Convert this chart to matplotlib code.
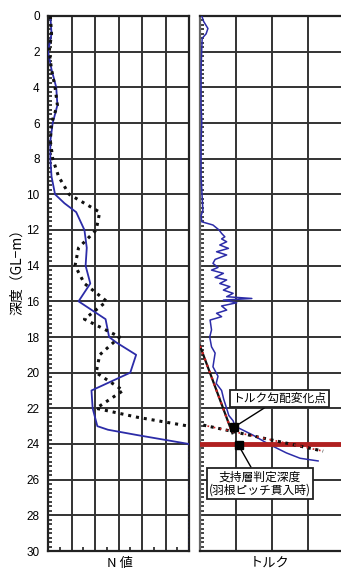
import numpy as np
import matplotlib.pyplot as plt
from matplotlib.ticker import MultipleLocator

plt.rcParams['font.family'] = ['Noto Sans CJK JP', 'DejaVu Sans']

# ---- N value (left panel) ----
n_blue_depth = [0, 1, 2, 3, 4, 5, 6, 7, 8, 9, 10, 10.5, 11, 12, 13, 14, 15, 15.7, 16,
                17, 18, 18.3, 19, 20, 21, 22, 23, 23.2, 23.5, 24]
n_blue_val = [1, 1.5, 0, 1.5, 3.5, 4, 2, 1, 1, 1.5, 3, 7, 12, 15.5, 16.5, 16, 18, 14.5, 13,
              24.5, 26, 29, 37.5, 35, 18.5, 19, 21, 25.5, 38, 60]
n_cap_depth = [24, 30]
n_cap_val = [60, 60]

n_dot_depth = [0, 1, 2, 3, 4, 5, 6, 7, 8, 9, 10, 11, 12, 13, 14, 15, 16, 17, 18, 19, 20,
               21, 22, 22.5, 23]
n_dot_val = [1, 1.5, 0.5, 1.5, 3, 4, 1.5, 1, 2, 4.5, 9, 22, 20.5, 13, 11.5, 15.5, 25, 15.5,
             30.5, 22, 20.5, 32, 20.5, 38, 60]

# ---- torque (right panel) ----
tq_depth = [0, 0.3, 0.7, 1.0, 1.25, 1.8, 3, 5, 6, 7, 9, 10.9, 11.2, 11.54, 11.72, 12.0,
            12.19, 12.38, 12.5, 12.66, 12.84, 13.03, 13.22, 13.4, 13.65, 13.87, 14.1, 14.25,
            14.43, 14.66, 14.8, 15.0, 15.18, 15.37, 15.55, 15.74, 15.84, 15.93, 16.08, 16.26,
            16.49, 16.67, 16.86, 17.05, 17.6, 18.0, 18.55, 18.9, 19.67, 20.2, 20.6, 21.0,
            21.5, 22.0, 22.4, 22.7, 23.0, 23.5, 24.0, 24.5, 24.8, 24.95]
tq_val = [0.05, 0.1, 0.22, 0.17, 0.06, 0.05, 0.03, 0.03, 0.05, 0.03, 0.03, 0.08, 0.03, 0.05,
          0.36, 0.53, 0.6, 0.69, 0.6, 0.74, 0.55, 0.79, 0.46, 0.74, 0.42, 0.36, 0.5, 0.32,
          0.65, 0.42, 0.74, 0.55, 0.83, 0.65, 0.92, 0.74, 1.44, 0.65, 1.02, 0.6, 0.74, 0.46,
          0.6, 0.28, 0.32, 0.27, 0.32, 0.42, 0.36, 0.5, 0.45, 0.6, 0.66, 0.74, 0.8, 0.92,
          0.97, 1.47, 1.9, 2.4, 2.78, 3.28]

fit1_depth = [18.5, 23.4]
fit1_val = [0.0, 0.9]
fit2_depth = [22.94, 24.4]
fit2_val = [0.09, 3.42]

change_pt = (0.95, 23.05)
bearing_pt = (1.07, 24.07)
bearing_depth = 24.0

y_ticks = list(range(0, 31, 2))

W, H = 341, 571
fig = plt.figure(figsize=(W / 100, H / 100), dpi=100)

grid_kw = dict(color='#333333', lw=1.4)
ax1 = fig.add_axes([48 / W, 20 / H, 141 / W, 535 / H])
ax2 = fig.add_axes([200 / W, 20 / H, 141 / W, 535 / H])

for ax in (ax1, ax2):
    ax.set_ylim(30, 0)
    ax.set_yticks(y_ticks)
    ax.grid(True, which='major', **grid_kw)
    ax.tick_params(axis='y', which='major', length=0, labelsize=8.5, pad=6)
    for s in ax.spines.values():
        s.set_linewidth(1.6)
        s.set_color('#222222')

ax1.set_xlim(0, 60)
ax1.set_xticks(range(0, 61, 10))
ax1.set_xticklabels([])
ax1.tick_params(axis='x', which='major', length=0)
ax1.minorticks_on()
ax1.xaxis.set_minor_locator(MultipleLocator(5))
ax1.yaxis.set_minor_locator(MultipleLocator(0.25))
ax1.tick_params(which='minor', direction='in', length=3, width=1.2, color='#222222')
for lab in ax1.get_yticklabels():
    lab.set_family(['Liberation Sans', 'DejaVu Sans'])

ax1.plot(n_blue_val, n_blue_depth, color='#2c2ca8', lw=1.3, zorder=3)
ax1.plot(n_cap_val, n_cap_depth, color='#2c2ca8', lw=1.0, ls=':', zorder=3)
ax1.plot(n_dot_val, n_dot_depth, color='#111111', lw=2.2, ls=(0, (1, 1.6)), zorder=4)

ax2.set_xlim(0, 141 / 36)
ax2.set_xticks([0, 1, 2, 3])
ax2.set_xticklabels([])
ax2.set_yticklabels([])
ax2.minorticks_on()
ax2.xaxis.set_minor_locator(MultipleLocator(10))
ax2.yaxis.set_minor_locator(MultipleLocator(0.25))
ax2.tick_params(axis='x', which='both', length=0)
ax2.tick_params(axis='y', which='minor', direction='in', length=3, width=1.2, color='#222222')
ax2.spines['right'].set_visible(False)
ax2.spines['left'].set_color('#666666')

ax2.plot(tq_val, tq_depth, color='#2c2ca8', lw=1.1, zorder=3)
ax2.axhline(bearing_depth, color='#b02020', lw=3.5, zorder=4)
ax2.plot(fit1_val, fit1_depth, color='#111111', lw=1.6, zorder=5)
ax2.plot(fit1_val, fit1_depth, color='#cc2222', lw=1.6, ls=(0, (1, 2)), zorder=6)
ax2.plot(fit2_val, fit2_depth, color='#111111', lw=2.2, ls=(0, (1, 1.5)), zorder=5)
ax2.plot(fit2_val, fit2_depth, color='#cc2222', lw=1.2, ls=(1.2, (1, 2.8)), zorder=6)
ax2.plot(*change_pt, marker='s', color='black', ms=6, zorder=7)
ax2.plot(*bearing_pt, marker='s', color='black', ms=6, zorder=7)

box = dict(boxstyle='square,pad=0.2', fc='white', ec='#222222', lw=1.3)
ax2.annotate('トルク勾配変化点', xy=change_pt, xytext=(2.2, 21.45), fontsize=8.5,
             ha='center', va='center', bbox=box,
             arrowprops=dict(arrowstyle='-', color='black', lw=1.0, shrinkA=0, shrinkB=0),
             zorder=8)
ax2.annotate('支持層判定深度\n(羽根ピッチ貫入時)', xy=bearing_pt, xytext=(1.67, 26.2),
             fontsize=8.5, ha='center', va='center', bbox=box, linespacing=1.0,
             arrowprops=dict(arrowstyle='-', color='black', lw=1.0, shrinkA=0, shrinkB=0),
             zorder=8)

fig.text(120 / W, 1 - 563 / H, 'N 値', ha='center', va='center', fontsize=9.5)
fig.text(270 / W, 1 - 563 / H, 'トルク', ha='center', va='center', fontsize=9.5)
fig.text(17 / W, 1 - 268 / H, '深度（GL−m）', ha='center', va='center', rotation=90,
         fontsize=10)

fig.savefig('out.png', dpi=100)
